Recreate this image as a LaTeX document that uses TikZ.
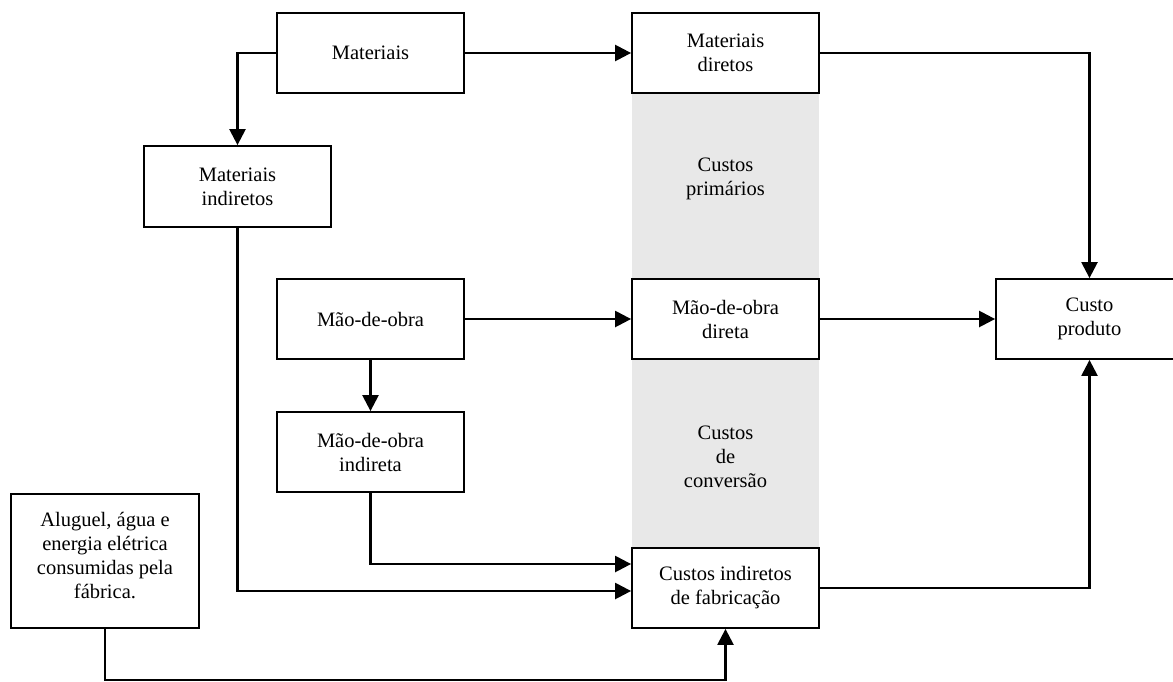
\documentclass[tikz,border=0pt]{standalone}
\usepackage{fontspec}
\setmainfont{Liberation Serif}
\usetikzlibrary{arrows.meta}
\definecolor{bandgray}{HTML}{E8E8E8}
\begin{document}
\begin{tikzpicture}[x=1pt,y=-1pt,
  txt/.style={align=center, font=\fontsize{20.5}{24}\selectfont},
  box/.style={txt, draw, line width=1.8pt, fill=white,
    minimum width=187pt, minimum height=80pt, inner sep=0pt},
  flow/.style={line width=2.4pt, -{Triangle[length=16pt,width=16pt]}}]
\useasboundingbox (0,0) rectangle (1173,681);
\clip (0,0) rectangle (1173,681);

% shaded column behind the cost classes
\fill[bandgray] (632,93) rectangle (819,548);
\node[txt] (cprim) at (725.5,179) {Custos\\primários};
\node[txt] (cconv) at (725.5,457) {Custos\\de\\conversão};

% boxes
\node[box] (mat) at (370.5,53) {Materiais};
\node[box] (matd) at (725.5,53) {Materiais\\diretos};
\node[box, minimum height=81pt] (mati) at (237.5,186.5) {Materiais\\indiretos};
\node[box] (mo) at (370.5,319) {Mão-de-obra};
\node[box] (mod) at (725.5,319) {Mão-de-obra\\direta};
\node[box] (cp) at (1089.5,319) {Custo\\produto};
\node[box] (moi) at (370.5,452) {Mão-de-obra\\indireta};
\node[box] (cif) at (725.5,588) {Custos indiretos\\de fabricação};
\node[box, minimum width=188pt, minimum height=134pt, text depth=11pt] (alu) at (105,561)
  {Aluguel, água e\\energia elétrica\\consumidas pela\\fábrica.};

% flows
\draw[flow] (mat.east) -- (matd.west);
\draw[flow] (mat.west) -| (mati.north);
\draw[flow] (matd.east) -| (cp.north);
\draw[flow] (mo.east) -- (mod.west);
\draw[flow] (mod.east) -- (cp.west);
\draw[flow] (mo.south) -- (moi.north);
\draw[flow] (moi.south) |- ([yshift=24pt]cif.west);
\draw[flow] (mati.south) |- ([yshift=-3pt]cif.west);
\draw[flow] (alu.south) -- ++(0,51) -| (cif.south);
\draw[flow] (cif.east) -| (cp.south);
\end{tikzpicture}
\end{document}
